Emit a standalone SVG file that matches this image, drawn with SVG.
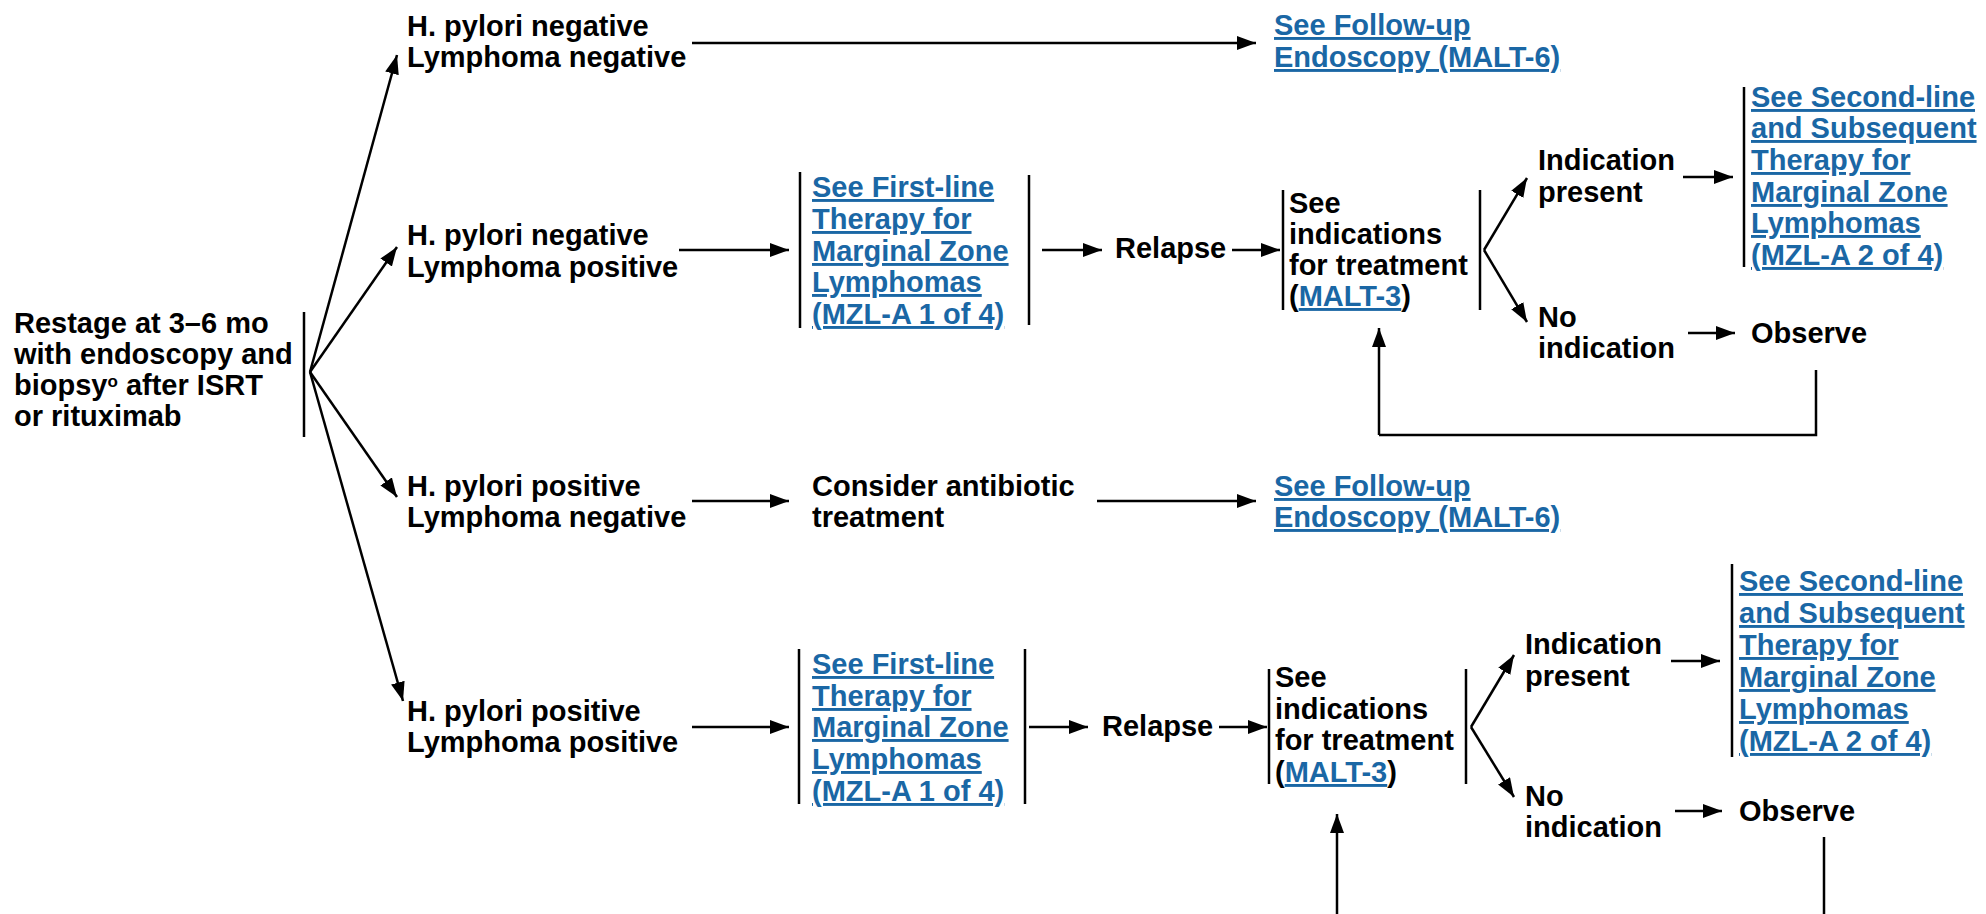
<svg xmlns="http://www.w3.org/2000/svg" width="1986" height="914" viewBox="0 0 1986 914">
<style>
text{font-family:"Liberation Sans",Arial,sans-serif;font-weight:bold;font-size:29px;fill:#000}
.lk{fill:#1a67a5;text-decoration:underline}
.bar{stroke:#000;stroke-width:2.5;fill:none}
.ar{stroke:#000;stroke-width:2.5;fill:none;marker-end:url(#ah)}
.ln{stroke:#000;stroke-width:2.5;fill:none}
</style>
<defs>
<marker id="ah" markerUnits="userSpaceOnUse" markerWidth="20" markerHeight="15" refX="19" refY="7" orient="auto">
<path d="M0,0 L19,7 L0,14 z" fill="#000"/>
</marker>
</defs>
<rect width="1986" height="914" fill="#fff"/>

<g id="connectors">
<path class="ar" d="M310,372 L397,55"/>
<path class="ar" d="M310,372 L397,247"/>
<path class="ar" d="M310,372 L397,497"/>
<path class="ar" d="M310,372 L403,701"/>
<path class="ar" d="M692,43 H1256"/>
<path class="ar" d="M679,250 H789"/>
<path class="ar" d="M1042,250 H1102"/>
<path class="ar" d="M1232,250 H1280"/>
<path class="ar" d="M1484,250 L1527,178"/>
<path class="ar" d="M1484,250 L1527,322"/>
<path class="ar" d="M1683,177 H1733"/>
<path class="ar" d="M1688,333 H1735"/>
<path class="ln" d="M1816,370 V435 H1379"/>
<path class="ar" d="M1379,435 V328"/>
<path class="ar" d="M692,501 H789"/>
<path class="ar" d="M1097,501 H1256"/>
<path class="ar" d="M692,727 H789"/>
<path class="ar" d="M1029,727 H1088"/>
<path class="ar" d="M1219,727 H1267"/>
<path class="ar" d="M1471,727 L1514,655"/>
<path class="ar" d="M1471,727 L1514,797"/>
<path class="ar" d="M1671,661 H1720"/>
<path class="ar" d="M1675,811 H1722"/>
<path class="ln" d="M1824,837 V914"/>
<path class="ar" d="M1337,914 V814"/>
</g>

<g id="restage">
<text x="14" y="333">Restage at 3–6 mo</text>
<text x="14" y="364">with endoscopy and</text>
<text x="14" y="395">biopsy<tspan font-size="17" dy="-8">o</tspan><tspan dy="8"> after ISRT</tspan></text>
<text x="14" y="426">or rituximab</text>
<line class="bar" x1="304" y1="312" x2="304" y2="437"/>
</g>

<g id="hp-neg-lym-neg">
<text x="407" y="36">H. pylori negative</text>
<text x="407" y="67">Lymphoma negative</text>
</g>
<g id="hp-neg-lym-pos">
<text x="407" y="245">H. pylori negative</text>
<text x="407" y="277">Lymphoma positive</text>
</g>
<g id="hp-pos-lym-neg">
<text x="407" y="496">H. pylori positive</text>
<text x="407" y="527">Lymphoma negative</text>
</g>
<g id="hp-pos-lym-pos">
<text x="407" y="721">H. pylori positive</text>
<text x="407" y="752">Lymphoma positive</text>
</g>

<g id="followup-1">
<text class="lk" x="1274" y="35">See Follow-up</text>
<text class="lk" x="1274" y="67">Endoscopy (MALT-6)</text>
</g>

<g id="firstline-1" xml:space="preserve">
<line class="bar" x1="800" y1="172" x2="800" y2="328"/>
<text class="lk" x="812" y="197">See First-line </text>
<text class="lk" x="812" y="229">Therapy for </text>
<text class="lk" x="812" y="261">Marginal Zone </text>
<text class="lk" x="812" y="292">Lymphomas </text>
<text class="lk" x="812" y="324">(MZL-A 1 of 4)</text>
<line class="bar" x1="1029" y1="175" x2="1029" y2="325"/>
</g>
<g id="relapse-1"><text x="1115" y="258">Relapse</text></g>
<g id="indications-1">
<line class="bar" x1="1283" y1="190" x2="1283" y2="310"/>
<text x="1289" y="213">See</text>
<text x="1289" y="244">indications</text>
<text x="1289" y="275">for treatment</text>
<text x="1289" y="306">(<tspan class="lk">MALT-3</tspan>)</text>
<line class="bar" x1="1480" y1="190" x2="1480" y2="310"/>
</g>
<g id="ind-present-1">
<text x="1538" y="170">Indication</text>
<text x="1538" y="202">present</text>
</g>
<g id="secondline-1" xml:space="preserve">
<line class="bar" x1="1744" y1="87" x2="1744" y2="267"/>
<text class="lk" x="1751" y="107">See Second-line </text>
<text class="lk" x="1751" y="138">and Subsequent </text>
<text class="lk" x="1751" y="170">Therapy for </text>
<text class="lk" x="1751" y="202">Marginal Zone </text>
<text class="lk" x="1751" y="233">Lymphomas </text>
<text class="lk" x="1751" y="265">(MZL-A 2 of 4)</text>
</g>
<g id="no-ind-1">
<text x="1538" y="327">No</text>
<text x="1538" y="358">indication</text>
</g>
<g id="observe-1"><text x="1751" y="343">Observe</text></g>

<g id="antibiotic">
<text x="812" y="496">Consider antibiotic</text>
<text x="812" y="527">treatment</text>
</g>
<g id="followup-2">
<text class="lk" x="1274" y="496">See Follow-up</text>
<text class="lk" x="1274" y="527">Endoscopy (MALT-6)</text>
</g>

<g id="firstline-2" xml:space="preserve">
<line class="bar" x1="799" y1="649" x2="799" y2="804"/>
<text class="lk" x="812" y="674">See First-line </text>
<text class="lk" x="812" y="706">Therapy for </text>
<text class="lk" x="812" y="737">Marginal Zone </text>
<text class="lk" x="812" y="769">Lymphomas </text>
<text class="lk" x="812" y="801">(MZL-A 1 of 4)</text>
<line class="bar" x1="1025" y1="649" x2="1025" y2="804"/>
</g>
<g id="relapse-2"><text x="1102" y="736">Relapse</text></g>
<g id="indications-2">
<line class="bar" x1="1269" y1="669" x2="1269" y2="784"/>
<text x="1275" y="687">See</text>
<text x="1275" y="719">indications</text>
<text x="1275" y="750">for treatment</text>
<text x="1275" y="782">(<tspan class="lk">MALT-3</tspan>)</text>
<line class="bar" x1="1466" y1="669" x2="1466" y2="784"/>
</g>
<g id="ind-present-2">
<text x="1525" y="654">Indication</text>
<text x="1525" y="686">present</text>
</g>
<g id="secondline-2" xml:space="preserve">
<line class="bar" x1="1732" y1="564" x2="1732" y2="757"/>
<text class="lk" x="1739" y="591">See Second-line </text>
<text class="lk" x="1739" y="623">and Subsequent </text>
<text class="lk" x="1739" y="655">Therapy for </text>
<text class="lk" x="1739" y="687">Marginal Zone </text>
<text class="lk" x="1739" y="719">Lymphomas </text>
<text class="lk" x="1739" y="751">(MZL-A 2 of 4)</text>
</g>
<g id="no-ind-2">
<text x="1525" y="806">No</text>
<text x="1525" y="837">indication</text>
</g>
<g id="observe-2"><text x="1739" y="821">Observe</text></g>
</svg>
